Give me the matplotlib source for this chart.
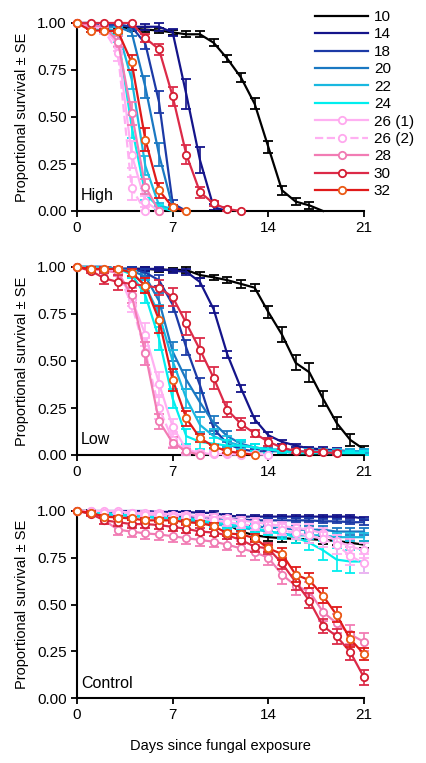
import numpy as np
import matplotlib
matplotlib.use("Agg")
import matplotlib.pyplot as plt
from matplotlib.lines import Line2D

plt.rcParams["font.family"] = ["Liberation Sans", "DejaVu Sans"]

days = list(range(22))
labels = ["10", "14", "18", "20", "22", "24", "26 (1)", "26 (2)", "28", "30", "32"]
colors = ["#000000", "#14148a", "#1c3aa6", "#1a78c2", "#19b8e0", "#00eeee",
          "#ffb0f2", "#ffb0f2", "#f27cb4", "#dc2a48", "#e01a1a"]
edge_colors = [None, None, None, None, None, None,
               "#ffa8ee", "#ffa8ee", "#f07ab2", "#d41e32", "#ea5a14"]
styles = ["-", "-", "-", "-", "-", "-", "-", "--", "-", "-", "-"]
panel_names = ["High", "Low", "Control"]

# ---- High dose ----
high_10 = [1.0, .99, .99, .98, .97, .965, .96, .95, .94, .94, .895, .81, .71, .57, .34, .11, .05, .03, 0.0]
high_14 = [1.0, 1.0, .99, .99, .98, .98, .98, .95, .62, .27, .02, 0.0]
high_18 = [1.0, 1.0, .99, .99, .98, .89, .58, .04, 0.0]
high_20 = [1.0, .99, .98, .98, .95, .66, .30, .02, 0.0]
high_22 = [1.0, .98, .97, .96, .70, .24, .03, .01, 0.0]
high_24 = [1.0, .97, .96, .93, .45, .09, .02, 0.0]
high_26_1 = [1.0, .98, .97, .88, .30, .05, 0.0]
high_26_2 = [1.0, .98, .96, .84, .12, 0.0]
high_28 = [1.0, .99, .98, .90, .52, .13, 0.0]
high_30 = [1.0, 1.0, 1.0, 1.0, 1.0, .92, .86, .61, .30, .10, .04, .01, 0.0]
high_32 = [1.0, .96, .96, .955, .79, .38, .11, .02, 0.0]

high_10_se = [0, .01, .01, .01, .01, .015, .015, .015, .015, .015, .02, .02, .025, .03, .03, .025, .02, .02, 0]
high_14_se = [0, 0, .01, .01, .015, .015, .02, .02, .08, .07, .015, 0]
high_18_se = [0, 0, .01, .01, .015, .03, .06, .02, 0]
high_20_se = [0, .01, .01, .015, .02, .06, .06, .01, 0]
high_22_se = [0, .01, .015, .02, .05, .05, .01, .01, 0]
high_24_se = [0, .02, .02, .03, .06, .03, .01, 0]
high_26_1_se = [0, .01, .02, .03, .07, .03, 0]
high_26_2_se = [0, .01, .02, .04, .06, 0]
high_28_se = [0, .01, .02, .03, .06, .04, 0]
high_30_se = [0, 0, 0, 0, 0, .02, .03, .05, .05, .03, .015, .01, 0]
high_32_se = [0, .01, .01, .01, .04, .06, .04, .01, 0]

# ---- Low dose ----
low_10 = [1.0, 1.0, 1.0, .99, .99, .99, .985, .985, .984, .957, .945, .93, .91, .89, .76, .64, .49, .44, .30, .17, .08, .03]
low_14 = [1.0, 1.0, 1.0, .99, .99, .99, .99, .98, .975, .92, .775, .535, .355, .19, .105, .07, .05, .035, .03, .025, .02, .02]
low_18 = [1.0, 1.0, 1.0, .99, .99, .97, .93, .80, .57, .37, .14, .06, .03, .02, .02, .02, .01, .01, .01, .01, .01, .01]
low_20 = [1.0, 1.0, 1.0, .99, .98, .95, .82, .55, .40, .28, .17, .10, .06, .04, .03, .02, .02, .01, .01, .01, .01, .01]
low_22 = [1.0, 1.0, 1.0, .99, .97, .90, .75, .50, .30, .16, .10, .07, .05, .04, .03, .03, .02, .02, .02, .02, .02, .02]
low_24 = [1.0, 1.0, .99, .99, .96, .85, .62, .30, .10, .07, .06, .05, .05, .04, .03, .02, .01, .01, .01, .01, .01, .01]
low_26_1 = [1.0, .99, .99, .98, .83, .64, .38, .15, .03, .01, .005, .005, 0.0]
low_26_2 = [1.0, .99, .98, .97, .80, .55, .25, .08, .02, .01, .01, .01, .01, .005, 0.0]
low_28 = [1.0, .99, .98, .97, .85, .54, .18, .065, .02, 0.0]
low_30 = [1.0, .98, .94, .92, .91, .90, .89, .84, .70, .56, .41, .24, .165, .115, .07, .04, .02, .018, .014, .01]
low_32 = [1.0, .99, .99, .99, .97, .90, .72, .40, .195, .09, .045, .02, .01, 0.0]

low_10_se = [0, 0, 0, .01, .01, .01, .01, .01, .015, .015, .015, .015, .02, .02, .03, .04, .04, .05, .04, .03, .03, .02]
low_14_se = [0, 0, 0, .01, .01, .01, .01, .01, .015, .02, .02, .02, .02, .02, .015, .01, .01, .01, .01, .01, .01, .01]
low_18_se = [0, 0, 0, .01, .01, .02, .03, .04, .04, .04, .03, .02, .01, .01, .01, .01, .01, .01, .01, .01, .01, .01]
low_20_se = [0, 0, 0, .01, .01, .02, .04, .05, .05, .05, .04, .03, .02, .02, .01, .01, .01, .01, .01, .01, .01, .01]
low_22_se = [0, 0, 0, .01, .02, .03, .05, .06, .05, .04, .04, .03, .02, .02, .02, .01, .01, .01, .01, .01, .01, .01]
low_24_se = [0, 0, .01, .01, .02, .04, .06, .05, .04, .04, .03, .03, .03, .02, .02, .01, .01, .01, .01, .01, .01, .01]
low_26_1_se = [0, .01, .01, .02, .04, .06, .06, .04, .02, .01, .005, .005, 0]
low_26_2_se = [0, .01, .01, .02, .04, .07, .06, .04, .02, .01, .01, .01, .01, .005, 0]
low_28_se = [0, .01, .01, .02, .04, .06, .04, .03, .01, 0]
low_30_se = [0, .01, .03, .04, .04, .04, .04, .05, .06, .06, .06, .04, .03, .02, .02, .01, .01, .01, .01, .01]
low_32_se = [0, .01, .01, .01, .02, .04, .07, .06, .04, .02, .01, .01, .01, 0]

# ---- Control ----
ctrl_10 = [1.0, 1.0, .99, .99, .99, .98, .98, .97, .96, .95, .94, .93, .89, .87, .86, .855, .85, .85, .845, .84, .83, .82]
ctrl_14 = [1.0, 1.0, 1.0, 1.0, 1.0, 1.0, .995, .995, .995, .99, .99, .975, .97, .97, .97, .97, .97, .97, .97, .97, .97, .96]
ctrl_18 = [1.0, 1.0, .99, .99, .99, .98, .98, .98, .97, .97, .96, .96, .955, .95, .95, .95, .95, .95, .945, .945, .94, .94]
ctrl_20 = [1.0, .99, .99, .98, .98, .97, .97, .96, .96, .95, .94, .93, .92, .92, .91, .91, .90, .90, .90, .89, .89, .89]
ctrl_22 = [1.0, .99, .98, .98, .97, .97, .96, .96, .95, .94, .93, .92, .91, .90, .89, .88, .87, .87, .87, .86, .86, .86]
ctrl_24 = [1.0, .99, .99, .98, .98, .97, .97, .96, .96, .95, .94, .93, .92, .91, .89, .88, .86, .83, .79, .74, .73, .73]
ctrl_26_1 = [1.0, 1.0, 1.0, 1.0, .99, .99, .99, .98, .98, .97, .97, .96, .95, .94, .93, .92, .91, .90, .88, .84, .81, .79]
ctrl_26_2 = [1.0, 1.0, .99, .99, .99, .98, .98, .97, .97, .96, .95, .94, .93, .92, .91, .90, .88, .87, .85, .82, .76, .72]
ctrl_28 = [1.0, .99, .95, .90, .89, .88, .875, .865, .855, .845, .836, .82, .80, .78, .75, .66, .60, .57, .46, .40, .34, .30]
ctrl_30 = [1.0, .985, .95, .94, .93, .93, .925, .915, .905, .89, .885, .87, .845, .81, .80, .72, .62, .52, .385, .33, .245, .11]
ctrl_32 = [1.0, .99, .97, .965, .96, .95, .95, .95, .94, .935, .92, .88, .875, .855, .80, .77, .66, .63, .547, .444, .314, .235]

ctrl_10_se = [0, .005, .01, .01, .01, .01, .01, .01, .015, .015, .015, .015, .02, .02, .02, .02, .02, .02, .02, .02, .02, .02]
ctrl_14_se = [0, 0, 0, 0, 0, 0, .005, .005, .005, .01, .01, .01, .01, .01, .01, .01, .01, .01, .01, .01, .01, .01]
ctrl_18_se = [0, 0, .01, .01, .01, .01, .01, .01, .01, .01, .01, .01, .01, .01, .01, .01, .01, .01, .01, .01, .01, .015]
ctrl_20_se = [0, .01, .01, .01, .01, .01, .01, .01, .01, .01, .015, .015, .015, .015, .015, .015, .02, .02, .02, .02, .02, .02]
ctrl_22_se = [0, .01, .01, .01, .01, .01, .01, .01, .015, .015, .015, .015, .02, .02, .02, .02, .02, .02, .02, .02, .02, .02]
ctrl_24_se = [0, .01, .01, .01, .01, .01, .01, .015, .015, .015, .02, .02, .02, .02, .02, .03, .03, .04, .05, .06, .06, .06]
ctrl_26_1_se = [0, 0, 0, 0, .01, .01, .01, .01, .01, .015, .015, .015, .02, .02, .02, .02, .02, .03, .03, .03, .04, .04]
ctrl_26_2_se = [0, 0, .01, .01, .01, .01, .01, .015, .015, .015, .02, .02, .02, .02, .03, .03, .03, .04, .04, .05, .05, .05]
ctrl_28_se = [0, .01, .02, .03, .03, .03, .03, .03, .03, .03, .03, .03, .04, .04, .04, .05, .05, .05, .05, .05, .05, .05]
ctrl_30_se = [0, .01, .02, .02, .02, .02, .02, .02, .02, .02, .02, .02, .02, .03, .03, .03, .04, .04, .04, .04, .04, .04]
ctrl_32_se = [0, .01, .01, .01, .01, .01, .01, .01, .01, .01, .015, .015, .02, .02, .02, .03, .04, .04, .04, .04, .04, .03]

panels = [
    ([high_10, high_14, high_18, high_20, high_22, high_24, high_26_1, high_26_2, high_28, high_30, high_32],
     [high_10_se, high_14_se, high_18_se, high_20_se, high_22_se, high_24_se, high_26_1_se, high_26_2_se,
      high_28_se, high_30_se, high_32_se]),
    ([low_10, low_14, low_18, low_20, low_22, low_24, low_26_1, low_26_2, low_28, low_30, low_32],
     [low_10_se, low_14_se, low_18_se, low_20_se, low_22_se, low_24_se, low_26_1_se, low_26_2_se,
      low_28_se, low_30_se, low_32_se]),
    ([ctrl_10, ctrl_14, ctrl_18, ctrl_20, ctrl_22, ctrl_24, ctrl_26_1, ctrl_26_2, ctrl_28, ctrl_30, ctrl_32],
     [ctrl_10_se, ctrl_14_se, ctrl_18_se, ctrl_20_se, ctrl_22_se, ctrl_24_se, ctrl_26_1_se, ctrl_26_2_se,
      ctrl_28_se, ctrl_30_se, ctrl_32_se]),
]

W, H = 427, 763
fig = plt.figure(figsize=(W / 100, H / 100), dpi=100)

# axes boxes in pixels: (left, top, right, bottom)
boxes = [(77, 23, 364, 211), (77, 267, 364, 455), (77, 511, 364, 698)]

for (vals, ses), box, name in zip(panels, boxes, panel_names):
    l, t, r, b = box
    ax = fig.add_axes([l / W, 1 - b / H, (r - l) / W, (b - t) / H])
    for i, (v, s) in enumerate(zip(vals, ses)):
        x = days[:len(v)]
        has_marker = edge_colors[i] is not None
        ax.errorbar(x, v, yerr=s, color=colors[i], ls=styles[i], lw=1.6,
                    elinewidth=1.2, capsize=3.6, capthick=1.2,
                    marker="o" if has_marker else None, ms=5.3,
                    mfc="white", mec=edge_colors[i] if has_marker else colors[i],
                    mew=1.3, clip_on=False, zorder=2 + i * 0.1)
    ax.set_xlim(0, 21)
    ax.set_ylim(0, 1)
    ax.set_xticks([0, 7, 14, 21])
    ax.set_yticks([0, .25, .5, .75, 1.0])
    ax.set_yticklabels(["0.00", "0.25", "0.50", "0.75", "1.00"])
    ax.spines["top"].set_visible(False)
    ax.spines["right"].set_visible(False)
    for sp in ("left", "bottom"):
        ax.spines[sp].set_linewidth(1.5)
    ax.tick_params(direction="out", length=4.5, width=1.3, labelsize=11, pad=3)
    ax.set_ylabel("Proportional survival ± SE", fontsize=10.5, labelpad=6)
    ax.text(0.3, 0.04, name, fontsize=11.5, ha="left", va="bottom")

ax.set_xlabel("Days since fungal exposure", fontsize=10.5, labelpad=12)

handles = []
for i in range(len(labels)):
    has_marker = edge_colors[i] is not None
    handles.append(Line2D([], [], color=colors[i], ls=styles[i], lw=1.6,
                          marker="o" if has_marker else None, ms=5.3, mfc="white",
                          mec=edge_colors[i] if has_marker else colors[i], mew=1.3))
fig.legend(handles, labels, loc="upper left", bbox_to_anchor=(315 / W, 1 - 10 / H),
           frameon=False, fontsize=11, handlelength=3.5, handletextpad=0.35,
           labelspacing=0.225, borderpad=0, borderaxespad=0, markerfirst=True)

fig.savefig("out.png", dpi=100)
